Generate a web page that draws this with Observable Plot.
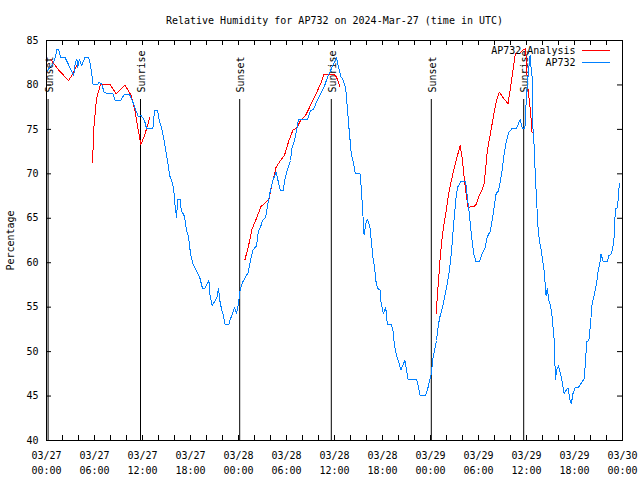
<!DOCTYPE html>
<html><head><meta charset="utf-8">
<script src="https://cdn.jsdelivr.net/npm/d3@7"></script>
<script src="https://cdn.jsdelivr.net/npm/@observablehq/plot@0.6"></script>
<style>body{margin:0;background:#fff}</style>
</head><body><div id="chart"></div>
<script>
const title = "Relative Humidity for AP732 on 2024-Mar-27 (time in UTC)";
const yLabel = "Percentage";
const seriesNames = ["AP732 Analysis", "AP732"];
const seriesColors = ["#ff0000", "#0080ff"];
const startUTC = Date.UTC(2024, 2, 27);
const spanHours = 72;
const yDomain = [40, 85];
const yTicks = [40, 45, 50, 55, 60, 65, 70, 75, 80, 85];
const xMajorHours = [0, 6, 12, 18, 24, 30, 36, 42, 48, 54, 60, 66, 72];
const xMinorHours = d3.range(0, 73, 2);
const sunsetHours = [0.2, 24.15, 48.1];
const sunriseHours = [11.75, 35.6, 59.65];

// AP732 observations (hours since 03/27 00:00 UTC, %)
const obsHours = [0.0,0.8,1.1,1.3,1.5,1.75,2.3,2.65,3.1,3.4,3.6,3.8,3.9,4.1,4.4,4.8,5.25,5.5,5.65,5.8,6.4,6.6,6.9,7.2,7.7,8.3,8.6,9.25,9.7,10.4,10.7,11.1,11.5,11.8,12.25,12.5,13.3,13.5,13.9,14.1,14.4,14.7,14.9,15.2,15.4,15.7,15.9,16.05,16.25,16.4,16.7,16.85,17.2,17.35,17.5,17.75,17.9,18.1,18.3,18.6,19.0,19.2,19.5,19.8,20.1,20.3,20.4,20.7,21.0,21.3,21.5,21.65,21.9,22.1,22.3,22.8,23.0,23.2,23.5,23.75,23.9,24.0,24.2,24.5,24.9,25.2,25.5,25.8,26.25,26.5,26.75,27.0,27.4,27.6,27.9,28.3,28.7,29.0,29.25,29.6,29.75,30.1,30.5,30.7,31.0,31.3,31.5,32.6,33.0,33.4,33.75,34.25,34.7,35.1,35.5,35.9,36.25,36.5,36.8,37.1,37.4,37.6,37.8,38.1,38.4,38.6,39.2,39.3,39.5,39.6,39.7,39.9,40.1,40.4,40.6,40.8,41.0,41.2,41.4,41.7,41.8,42.1,42.4,42.6,43.1,43.3,43.5,43.8,44.1,44.3,44.6,44.8,45.0,45.2,46.25,46.45,46.7,47.4,47.7,47.9,48.1,48.3,48.5,48.75,49.0,49.2,49.5,49.9,50.3,50.6,50.9,51.2,51.4,51.75,52.4,52.6,52.8,53.1,53.4,53.7,54.1,54.45,54.8,55.1,55.5,55.9,56.2,56.5,56.9,57.2,57.5,57.8,58.2,58.75,59.2,59.5,59.8,59.9,60.1,60.3,60.45,60.6,60.7,60.8,61.0,61.1,61.25,61.4,61.6,61.8,62.0,62.2,62.4,62.45,62.6,62.8,63.0,63.2,63.35,63.5,63.6,63.8,64.0,64.25,64.45,64.7,64.9,65.2,65.4,65.6,65.8,66.1,66.5,66.8,67.2,67.4,67.5,67.8,68.0,68.2,68.5,68.75,68.9,69.2,69.3,69.6,70.1,70.3,70.6,70.8,71.0,71.1,71.3,71.45,71.6];
const obsValues = [81.5,82.4,83.1,84.0,84.0,83.1,83.1,82.5,81.6,81.1,82.5,82.9,81.9,82.9,82.2,83.1,83.1,82.2,81.3,80.1,80.1,80.3,80.1,79.2,79.0,79.0,78.2,78.2,78.9,78.9,78.3,77.3,76.4,76.6,76.0,75.1,75.1,77.1,77.1,76.0,75.1,73.75,72.6,71.1,69.8,69.1,68.3,66.6,65.1,67.1,67.1,65.9,65.3,64.7,63.6,63.0,61.7,60.6,59.9,59.3,58.6,58.2,57.1,57.1,57.7,58.0,56.5,55.2,55.6,56.1,57.1,55.8,54.7,54.1,53.1,53.1,53.7,54.1,55.0,54.3,55.0,55.4,56.9,57.8,58.4,58.9,60.3,61.4,61.9,63.6,64.0,64.75,65.1,66.25,67.75,69.25,70.2,69.0,68.1,68.1,69.25,70.4,71.5,73.0,73.75,75.1,76.1,76.1,77.1,77.3,78.1,79.0,79.75,80.8,81.6,82.4,83.05,82.0,80.95,80.5,79.6,77.5,75.25,72.25,71.1,70.0,70.0,68.9,66.25,64.6,63.1,64.4,64.9,64.2,62.5,60.6,59.5,57.8,57.1,56.9,55.6,54.25,55.0,53.1,53.1,52.4,50.7,49.4,48.6,47.95,48.6,49.0,47.9,46.9,46.9,46.2,45.1,45.1,46.0,46.75,47.5,49.2,50.1,51.25,53.1,54.0,55.0,56.7,58.75,61.0,64.4,67.4,68.5,69.1,69.1,67.4,65.9,63.25,61.0,60.1,60.1,61.0,61.6,62.9,63.6,65.9,67.75,68.1,70.0,72.25,73.75,74.7,75.1,75.1,76.1,75.1,75.1,77.1,80.1,82.0,83.3,81.6,80.9,75.25,72.6,69.6,67.4,64.4,62.5,61.6,60.4,59.1,56.9,56.3,57.1,55.75,55.2,53.9,52.4,50.9,46.9,48.05,48.4,47.5,46.6,45.25,45.6,45.9,44.7,44.1,45.25,46.0,46.0,46.4,46.9,49.0,51.1,51.25,53.1,55.4,56.5,57.6,58.75,60.1,61.0,60.1,60.1,60.8,61.0,61.75,63.25,66.1,66.1,67.0,68.9];

// AP732 Analysis (NaN marks gaps between segments)
const anaHours = [0.5,1.6,2.75,3.3,3.8,4.8,5.75,5.95,6.25,6.75,7.9,8.7,9.8,10.6,11.1,11.4,11.8,12.25,12.9,18,24.8,25.3,25.7,26.25,26.8,27.4,27.8,28.2,28.7,29.25,29.75,30.3,30.8,31.3,31.75,32.4,33.0,33.6,34.25,34.7,35.9,36.25,36.7,42,48.7,48.95,49.25,49.5,49.9,50.2,50.6,51.1,51.7,52.0,52.25,52.5,52.7,53.4,53.75,54.0,54.4,54.7,54.9,55.1,55.4,55.7,56.0,56.3,56.6,57.2,57.7,58.0,58.3,58.6,59.25,59.5,59.9,60.0,60.2,60.5,60.7];
const anaValues = [82.9,81.6,80.5,81.25,82.2,NaN,71.3,75.6,78.4,80.1,80.1,79.0,80.0,78.8,76.9,75.25,73.3,74.3,76.3,NaN,60.3,62.1,63.8,65.0,66.3,66.8,67.1,68.9,70.75,71.5,72.1,73.75,74.9,75.2,76.0,76.6,77.7,78.8,80.1,81.2,81.2,80.9,79.75,NaN,54.3,57.4,61.0,63.25,65.5,67.4,69.25,71.1,73.2,71.5,69.25,67.4,66.25,66.3,66.6,67.4,68.1,68.9,70.6,72.6,74.1,75.6,77.1,78.4,79.2,78.4,77.9,79.75,81.6,83.5,83.6,83.9,84.1,82.0,79.4,77.1,74.6];

const toDate = h => new Date(startUTC + h * 3600e3);
const obs = obsHours.map((h, i) => ({t: toDate(h), v: obsValues[i]}));
const ana = anaHours.map((h, i) => ({t: toDate(h), v: anaValues[i]}));
const events = [
  ...sunsetHours.map(h => ({t: toDate(h), label: "Sunset"})),
  ...sunriseHours.map(h => ({t: toDate(h), label: "Sunrise"}))
];
const majorDates = xMajorHours.map(toDate);
const minorDates = xMinorHours.map(toDate);
const fmt = d3.utcFormat("%m/%d\n%H:%M");

const W = 640, H = 480, mL = 46, mR = 18, mT = 40, mB = 40;
const fw = W - mL - mR, fh = H - mT - mB, tick = 5;

const chart = Plot.plot({
  width: W, height: H,
  marginLeft: mL, marginRight: mR, marginTop: mT, marginBottom: mB,
  style: {fontFamily: "DejaVu Sans Mono", fontSize: "10px", background: "white", color: "black", overflow: "visible"},
  x: {type: "utc", domain: [toDate(0), toDate(spanHours)], axis: null},
  y: {domain: yDomain, axis: null},
  marks: [
    Plot.ruleX(minorDates, {x: d => d, insetTop: fh - tick, stroke: "black"}),
    Plot.ruleX(minorDates, {x: d => d, insetBottom: fh - tick, stroke: "black"}),
    Plot.ruleY(yTicks, {y: d => d, insetRight: fw - tick, stroke: "black"}),
    Plot.ruleY(yTicks, {y: d => d, insetLeft: fw - tick, stroke: "black"}),
    Plot.ruleX(events, {x: "t", insetTop: 59, stroke: "black"}),
    Plot.text(events, {x: "t", text: "label", frameAnchor: "top", dy: 52, dx: 1.5, rotate: -90, textAnchor: "start", lineAnchor: "middle", fill: "black"}),
    Plot.line(ana, {x: "t", y: "v", stroke: seriesColors[0], strokeWidth: 1, shapeRendering: "crispEdges"}),
    Plot.line(obs, {x: "t", y: "v", stroke: seriesColors[1], strokeWidth: 1, shapeRendering: "crispEdges"}),
    Plot.frame({stroke: "black", shapeRendering: "crispEdges"}),
    Plot.text(majorDates, {x: d => d, text: d => fmt(d), frameAnchor: "bottom", dy: 8, lineAnchor: "top", lineHeight: 1.5, fill: "black"}),
    Plot.text(yTicks, {y: d => d, text: d => String(d), frameAnchor: "left", dx: -8, textAnchor: "end", lineAnchor: "middle", fill: "black"}),
    Plot.text([yLabel], {frameAnchor: "left", dx: -36, rotate: -90, textAnchor: "middle", lineAnchor: "middle", fill: "black"}),
    Plot.text([title], {frameAnchor: "top", dy: -20, textAnchor: "middle", lineAnchor: "middle", fill: "black"}),
    Plot.text([seriesNames[0]], {frameAnchor: "top-right", dx: -47, dy: 10, textAnchor: "end", lineAnchor: "middle", fill: "black"}),
    Plot.text([seriesNames[1]], {frameAnchor: "top-right", dx: -47, dy: 22, textAnchor: "end", lineAnchor: "middle", fill: "black"}),
    Plot.ruleY([yDomain[1]], {y: d => d, dy: 10, insetLeft: fw - 40, insetRight: 12, stroke: seriesColors[0]}),
    Plot.ruleY([yDomain[1]], {y: d => d, dy: 22, insetLeft: fw - 40, insetRight: 12, stroke: seriesColors[1]})
  ]
});
document.getElementById("chart").appendChild(chart);
</script>
</body></html>
